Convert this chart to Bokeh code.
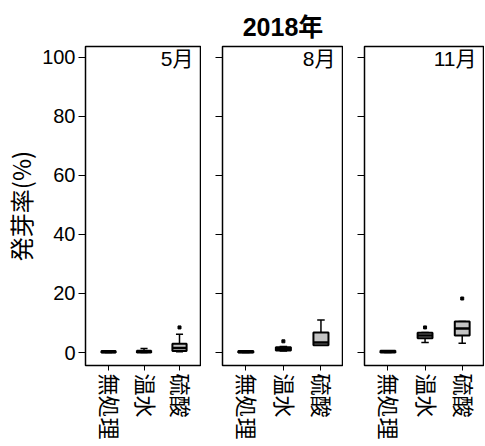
from bokeh.plotting import figure
from bokeh.layouts import row
from bokeh.models import Range1d, FixedTicker, Label
from bokeh.embed import file_html
from bokeh.resources import INLINE

title_text = "2018年"
y_label = "発芽率(%)"
months = ["5月", "8月", "11月"]
categories = ["無処理", "温水", "硫酸"]
y_ticks = [0, 20, 40, 60, 80, 100]

# box statistics per month (order: 無処理, 温水, 硫酸)
whisker_lo = [[0.0, 0.0, 0.3], [0.0, 0.5, 2.5], [0.0, 3.4, 3.1]]
q1 = [[0.0, 0.0, 0.5], [0.0, 0.7, 2.5], [0.0, 4.8, 5.8]]
median = [[0.2, 0.3, 1.5], [0.2, 1.2, 3.4], [0.3, 5.8, 8.1]]
q3 = [[0.5, 0.6, 3.0], [0.5, 1.8, 6.8], [0.6, 6.7, 10.5]]
whisker_hi = [[0.5, 1.4, 6.2], [0.5, 2.0, 11.0], [0.6, 6.8, 10.5]]
outlier_cat = [[3], [2], [2, 3]]
outlier_val = [[8.5], [3.8], [8.5, 18.3]]

FONT = "Liberation Sans, Noto Sans CJK JP"
CJK_FONT = "Noto Sans CJK JP"
widths = [201, 142, 141]
left_borders = [78, 21, 21]
x_starts = [0.35, 0.38, 0.37]
x_ends = [3.62, 3.6, 3.6]
box_w = 0.4
cap_w = 0.2

panels = []
for i, m in enumerate(months):
    p = figure(width=widths[i], height=446,
               x_range=Range1d(x_starts[i], x_ends[i]), y_range=Range1d(-4.4, 103.7),
               output_backend="svg", toolbar_location=None,
               min_border_left=left_borders[i], min_border_right=0,
               min_border_top=46, min_border_bottom=81)
    p.background_fill_color = "white"
    p.border_fill_color = "white"
    p.outline_line_color = "black"
    p.outline_line_width = 1.5
    p.xgrid.visible = False
    p.ygrid.visible = False

    xs = [1, 2, 3]
    # whiskers
    p.segment(x0=xs, x1=xs, y0=q3[i], y1=whisker_hi[i], line_color="black", line_width=1.5)
    p.segment(x0=xs, x1=xs, y0=q1[i], y1=whisker_lo[i], line_color="black", line_width=1.5)
    p.segment(x0=[x - cap_w / 2 for x in xs], x1=[x + cap_w / 2 for x in xs],
              y0=whisker_hi[i], y1=whisker_hi[i], line_color="black", line_width=1.5)
    p.segment(x0=[x - cap_w / 2 for x in xs], x1=[x + cap_w / 2 for x in xs],
              y0=whisker_lo[i], y1=whisker_lo[i], line_color="black", line_width=1.5)
    # boxes
    p.vbar(x=xs, width=box_w, bottom=q1[i], top=q3[i], fill_color="#c4c4c4",
           line_color="black", line_width=2)
    p.segment(x0=[x - box_w / 2 for x in xs], x1=[x + box_w / 2 for x in xs],
              y0=median[i], y1=median[i], line_color="black", line_width=2.5)
    # outliers
    p.scatter(x=outlier_cat[i], y=outlier_val[i], marker="square", size=3,
              fill_color="black", line_color="black")

    p.add_layout(Label(x=x_ends[i], y=103.7, x_offset=-8, y_offset=0, text=m,
                       text_align="right", text_baseline="top",
                       text_font=FONT, text_font_size="21px", text_color="black"))

    # axes
    p.xaxis.ticker = FixedTicker(ticks=xs)
    p.xaxis.major_label_overrides = {j + 1: c for j, c in enumerate(categories)}
    p.xaxis.major_label_orientation = "vertical"
    p.xaxis.major_label_text_font = FONT
    p.xaxis.major_label_text_font_size = "22px"
    p.xaxis.major_label_text_color = "black"
    p.xaxis.major_tick_out = 5
    p.xaxis.major_tick_in = 0
    p.xaxis.minor_tick_line_color = None
    p.xaxis.axis_line_color = "black"
    p.xaxis.major_label_standoff = 3

    p.yaxis.ticker = FixedTicker(ticks=y_ticks)
    p.yaxis.major_tick_out = 7
    p.yaxis.major_tick_in = 0
    p.yaxis.minor_tick_line_color = None
    p.yaxis.axis_line_color = "black"
    p.yaxis.major_label_text_font = FONT
    p.yaxis.major_label_text_font_size = "20px"
    p.yaxis.major_label_text_color = "black"
    if i == 0:
        p.yaxis.axis_label = y_label
        p.yaxis.axis_label_text_font = CJK_FONT
        p.yaxis.axis_label_text_font_size = "24px"
        p.yaxis.axis_label_text_font_style = "normal"
        p.yaxis.axis_label_text_color = "black"
        p.yaxis.axis_label_standoff = 1
        p.yaxis.major_label_standoff = 3
    else:
        p.yaxis.major_label_overrides = {t: "" for t in y_ticks}
        p.yaxis.major_label_standoff = 0
    if i == 1:
        p.title.text = title_text
        p.title.align = "center"
        p.title.text_font = FONT
        p.title.text_font_size = "25px"
        p.title.text_font_style = "bold"
        p.title.text_color = "black"
        p.title.standoff = 12
    panels.append(p)

layout = row(*panels, spacing=0)
open("out.html", "w").write(file_html(layout, INLINE))
